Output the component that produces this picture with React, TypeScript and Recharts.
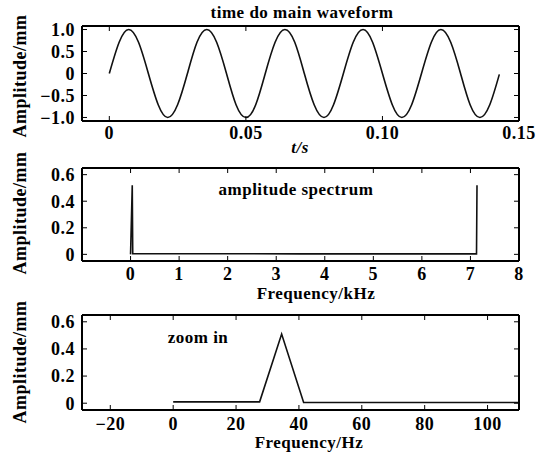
import { LineChart, Line, XAxis, YAxis } from "recharts";

// time-domain waveform (s, mm)
const timeS = [
  0, 0.0036, 0.0071, 0.0107, 0.0143, 0.0179, 0.0214, 0.025, 0.0286, 0.0321,
  0.0357, 0.0393, 0.0429, 0.0464, 0.05, 0.0536, 0.0571, 0.0607, 0.0643, 0.0679,
  0.0714, 0.075, 0.0786, 0.0821, 0.0857, 0.0893, 0.0929, 0.0964, 0.1, 0.1036,
  0.1071, 0.1107, 0.1143, 0.1179, 0.1214, 0.125, 0.1286, 0.1321, 0.1357, 0.1393,
  0.1428,
];
const waveAmp = [
  0, 0.71, 1, 0.71, 0, -0.71, -1, -0.71,
  0, 0.71, 1, 0.71, 0, -0.71, -1, -0.71,
  0, 0.71, 1, 0.71, 0, -0.71, -1, -0.71,
  0, 0.71, 1, 0.71, 0, -0.71, -1, -0.71,
  0, 0.71, 1, 0.71, 0, -0.71, -1, -0.71,
  -0.02,
];

// full amplitude spectrum (kHz, mm)
const specFreqKHz = [0, 0.035, 0.045, 3.5, 7.125, 7.135];
const specAmp = [0, 0.52, 0.005, 0.004, 0.004, 0.52];

// zoomed spectrum (Hz, mm)
const zoomFreqHz = [0, 27.5, 34.5, 41.5, 110];
const zoomAmp = [0.01, 0.01, 0.51, 0.005, 0.005];

const timeTicks = [0, 0.05, 0.1, 0.15];
const timeTickLabels = ["0", "0.05", "0.10", "0.15"];
const waveTicks = [-1, -0.5, 0, 0.5, 1];
const waveTickLabels = ["\u22121.0", "\u22120.5", "0", "0.5", "1.0"];
const kHzTicks = [0, 1, 2, 3, 4, 5, 6, 7, 8];
const hzTicks = [-20, 0, 20, 40, 60, 80, 100];
const specTicks = [0, 0.2, 0.4, 0.6];
const specTickLabels = ["0", "0.2", "0.4", "0.6"];

const serif = '"Liberation Serif", "Times New Roman", serif';
const tickFont = { fontFamily: serif, fontSize: 18, fontWeight: 700, fill: "#000", letterSpacing: 0.5 };
const frame = { stroke: "#000", strokeWidth: 2 };
const tickLn = { stroke: "#000", strokeWidth: 1 };

const zip = (xs: number[], ys: number[]) => xs.map((x, i) => ({ x, y: ys[i] }));
const labelOf = (ticks: number[], labels: string[]) => (v: number) => {
  const i = ticks.indexOf(v);
  return i >= 0 ? labels[i] : String(v);
};
const hzLabel = (v: number) => (v < 0 ? "\u2212" + Math.abs(v) : String(v));

interface PanelProps {
  top: number;
  height: number;
  margin: { top: number; right: number; bottom: number; left: number };
  data: { x: number; y: number }[];
  xDomain: [number, number];
  xTicks: number[];
  xFmt: (v: number) => string;
  xTickMargin: number;
  yDomain: [number, number];
  yTicks: number[];
  yFmt: (v: number) => string;
  curve: "natural" | "linear";
}

function Panel(p: PanelProps) {
  return (
    <div style={{ position: "absolute", left: 0, top: p.top }}>
      <LineChart width={539} height={p.height} data={p.data} margin={p.margin}>
        <XAxis
          xAxisId="b"
          dataKey="x"
          type="number"
          domain={p.xDomain}
          ticks={p.xTicks}
          tickFormatter={p.xFmt}
          interval={0}
          allowDataOverflow
          tickSize={-5}
          tickMargin={p.xTickMargin}
          height={30}
          axisLine={frame}
          tickLine={tickLn}
          tick={tickFont}
        />
        <XAxis
          xAxisId="t"
          orientation="top"
          dataKey="x"
          type="number"
          domain={p.xDomain}
          ticks={p.xTicks}
          tickFormatter={() => ""}
          interval={0}
          allowDataOverflow
          tickSize={-5}
          height={1}
          axisLine={frame}
          tickLine={tickLn}
        />
        <YAxis
          yAxisId="l"
          type="number"
          domain={p.yDomain}
          ticks={p.yTicks}
          tickFormatter={p.yFmt}
          interval={0}
          allowDataOverflow
          tickSize={-5}
          tickMargin={12}
          width={60}
          axisLine={frame}
          tickLine={tickLn}
          tick={tickFont}
        />
        <YAxis
          yAxisId="r"
          orientation="right"
          type="number"
          domain={p.yDomain}
          ticks={p.yTicks}
          tickFormatter={() => ""}
          interval={0}
          allowDataOverflow
          tickSize={-5}
          width={1}
          axisLine={frame}
          tickLine={tickLn}
        />
        <Line
          xAxisId="b"
          yAxisId="l"
          dataKey="y"
          type={p.curve}
          stroke="#111"
          strokeWidth={1.6}
          dot={false}
          isAnimationActive={false}
        />
      </LineChart>
    </div>
  );
}

const txt = { fontFamily: serif, fontWeight: 700, fontSize: 17, fill: "#000", letterSpacing: 0.5 };

export default function App() {
  return (
    <div style={{ position: "absolute", left: 0, top: 0, width: 539, height: 453, background: "#fff", overflow: "hidden" }}>
      <Panel
        top={0}
        height={160}
        margin={{ top: 25, right: 19, bottom: 9, left: 22 }}
        data={zip(timeS, waveAmp)}
        xDomain={[-0.01, 0.15]}
        xTicks={timeTicks}
        xFmt={labelOf(timeTicks, timeTickLabels)}
        xTickMargin={10}
        yDomain={[-1.08, 1.08]}
        yTicks={waveTicks}
        yFmt={labelOf(waveTicks, waveTickLabels)}
        curve="natural"
      />
      <Panel
        top={150}
        height={150}
        margin={{ top: 17, right: 19, bottom: 9, left: 22 }}
        data={zip(specFreqKHz, specAmp)}
        xDomain={[-1, 8]}
        xTicks={kHzTicks}
        xFmt={(v) => String(v)}
        xTickMargin={11}
        yDomain={[-0.05, 0.65]}
        yTicks={specTicks}
        yFmt={labelOf(specTicks, specTickLabels)}
        curve="linear"
      />
      <Panel
        top={300}
        height={153}
        margin={{ top: 14, right: 19, bottom: 13, left: 22 }}
        data={zip(zoomFreqHz, zoomAmp)}
        xDomain={[-29, 110]}
        xTicks={hzTicks}
        xFmt={hzLabel}
        xTickMargin={12}
        yDomain={[-0.05, 0.65]}
        yTicks={specTicks}
        yFmt={labelOf(specTicks, specTickLabels)}
        curve="linear"
      />
      <svg width={539} height={453} style={{ position: "absolute", left: 0, top: 0, pointerEvents: "none" }}>
        <text x={302} y={18} textAnchor="middle" {...txt}>time do main waveform</text>
        <text x={300} y={153} textAnchor="middle" {...txt} fontStyle="italic">t/s</text>
        <text x={296} y={195} textAnchor="middle" {...txt}>amplitude spectrum</text>
        <text x={316} y={299} textAnchor="middle" {...txt}>Frequency/kHz</text>
        <text x={198} y={343} textAnchor="middle" {...txt}>zoom in</text>
        <text x={309} y={448} textAnchor="middle" {...txt}>Frequency/Hz</text>
        <text transform="translate(26,76) rotate(-90)" textAnchor="middle" {...txt} fontSize={18}>Amplitude/mm</text>
        <text transform="translate(26,213) rotate(-90)" textAnchor="middle" {...txt} fontSize={18}>Amplitude/mm</text>
        <text transform="translate(26,362) rotate(-90)" textAnchor="middle" {...txt} fontSize={18}>Amplitude/mm</text>
      </svg>
    </div>
  );
}
